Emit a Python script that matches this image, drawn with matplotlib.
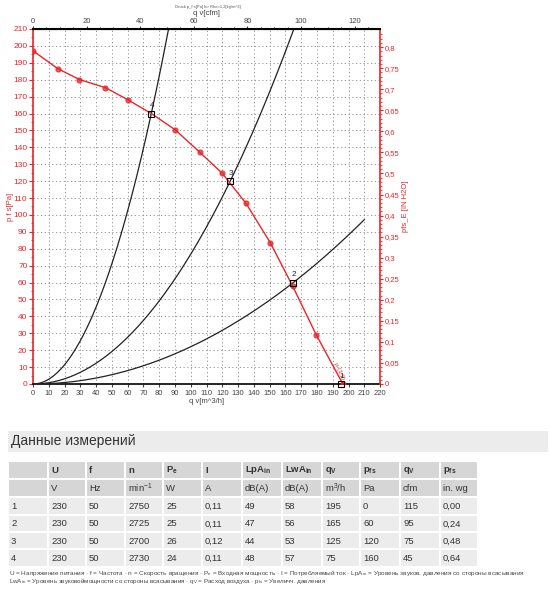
import numpy as np
import matplotlib.pyplot as plt
from matplotlib.patches import Rectangle

plt.rcParams['font.family'] = ['Liberation Sans', 'DejaVu Sans']

# fan curve: q [m3/h], p_fs [Pa]
curve_q = [0, 15.6, 29.4, 45.9, 60.0, 75, 90.1, 105.7, 119.9, 135.0, 150.4, 164.7, 179.5, 196.4]
curve_p = [197.1, 186.6, 180.1, 175.3, 168.2, 160, 150.4, 137.1, 124.7, 106.9, 83.6, 57.7, 29.2, 0]
dot_q = [0, 15.6, 29.4, 45.9, 60.0, 90.1, 105.7, 119.9, 135.0, 150.4, 164.7, 179.5, 196.4]
dot_p = [197.1, 186.6, 180.1, 175.3, 168.2, 150.4, 137.1, 124.7, 106.9, 83.6, 57.7, 29.2, 0]

# measurement table
row_ids = ['1', '2', '3', '4']
U = ['230', '230', '230', '230']
f = ['50', '50', '50', '50']
n = ['2750', '2725', '2700', '2730']
Pe = ['25', '25', '26', '24']
I = ['0,11', '0,11', '0,12', '0,11']
LpA = ['49', '47', '44', '48']
LwA = ['58', '56', '53', '57']
qv_m3h = [195, 165, 125, 75]
pfs_pa = [0, 60, 120, 160]
qv_cfm = ['115', '95', '75', '45']
pfs_inwg = ['0,00', '0,24', '0,48', '0,64']
head1 = ['', 'U', 'f', 'n', r'P$_\mathregular{e}$', 'I', r'LpA$_\mathregular{in}$',
         r'LwA$_\mathregular{in}$', r'q$_\mathregular{V}$', r'p$_\mathregular{fs}$',
         r'q$_\mathregular{V}$', r'p$_\mathregular{fs}$']
head2 = ['', 'V', 'Hz', r'min$^\mathregular{-1}$', 'W', 'A', 'dB(A)', 'dB(A)',
         r'm$^\mathregular{3}$/h', 'Pa', 'cfm', 'in. wg']

# system curves ends (q where they stop)
sys_end = [85.9, 165.4, 210]

red = '#e8262a'
PA_PER_INWG = 249.09
M3H_PER_CFM = 1.699

fig = plt.figure(figsize=(5.5, 6), dpi=100)
ax = fig.add_axes([0.06, 0.36, 0.631, 0.5917])

# system curves through operating points 4, 3, 2
for qo, po, qe in zip([qv_m3h[3], qv_m3h[2], qv_m3h[1]], [pfs_pa[3], pfs_pa[2], pfs_pa[1]], sys_end):
    k = po / qo ** 2
    qq = np.linspace(0, qe, 200)
    ax.plot(qq, k * qq ** 2, color='#222222', lw=0.9, zorder=3)

ax.plot(curve_q, curve_p, color=red, lw=1.0, zorder=4)
ax.plot(dot_q, dot_p, 'o', color=red, ms=3.5, alpha=0.75, zorder=5)

ax.plot(qv_m3h, pfs_pa, 's', mfc='none', mec='black', ms=4, mew=0.8, zorder=6, clip_on=False)
for i, (qx, py) in enumerate(zip(qv_m3h, pfs_pa)):
    ax.annotate(row_ids[i], (qx, py), xytext=(-1, 3), textcoords='offset points',
                fontsize=6, color='#222222', ha='left', va='bottom', zorder=7)
ax.text(190, 2, 'p (1,2)', color=red, fontsize=4.5, rotation=-65, ha='left', va='bottom')

ax.set_xlim(0, 220)
ax.set_ylim(0, 210)
ax.set_xticks(np.arange(0, 221, 10))
ax.set_yticks(np.arange(0, 211, 10))
ax.set_yticks(np.arange(0, 211, 5), minor=True)
ax.grid(True, color='#888888', linestyle=(0, (1.5, 3)), lw=0.6)
ax.tick_params(axis='x', labelsize=5.5, colors='#444444', length=2, pad=2)
ax.tick_params(axis='y', labelsize=6, colors=red, length=3, pad=1)
ax.tick_params(axis='y', which='minor', colors=red, length=1.5)
ax.spines['left'].set_color(red)
ax.spines['left'].set_linewidth(1.2)
ax.spines['bottom'].set_linewidth(1.2)
ax.spines['right'].set_visible(False)
ax.set_xlabel('q v[m^3/h]', fontsize=5.5, color='#444444', labelpad=1)
ax.set_ylabel('p f s[Pa]', fontsize=5.5, color=red)
ax.yaxis.set_label_coords(-0.055, 0.5)

ax_r = ax.twinx()
ax_r.set_ylim(0, 210 / PA_PER_INWG)
ax_r.set_yticks(np.arange(0, 0.81, 0.05))
ax_r.set_yticks(np.arange(0, 0.84, 0.01), minor=True)
ax_r.set_yticklabels([('%g' % v).replace('.', ',') for v in np.round(np.arange(0, 0.81, 0.05), 2)])
ax_r.tick_params(axis='y', labelsize=5.5, colors=red, length=2.5, pad=1)
ax_r.tick_params(axis='y', which='minor', colors=red, length=1.5)
ax_r.spines['right'].set_color(red)
ax_r.spines['right'].set_linewidth(1.2)
ax_r.spines['left'].set_visible(False)
ax_r.spines['top'].set_visible(False)
ax_r.spines['bottom'].set_visible(False)
ax_r.set_ylabel('pfs_E [IN H2O]', fontsize=5.5, color=red)
ax_r.yaxis.set_label_coords(1.063, 0.5)

ax_t = ax.twiny()
ax_t.set_xlim(0, 220 / M3H_PER_CFM)
ax_t.set_xticks(np.arange(0, 121, 20))
ax_t.set_xticks(np.arange(0, 130, 5), minor=True)
ax_t.tick_params(axis='x', labelsize=5.5, colors='#444444', length=2, pad=1)
ax_t.tick_params(axis='x', which='minor', length=1.5)
ax_t.spines['top'].set_linewidth(1.5)
for s in ['left', 'right', 'bottom']:
    ax_t.spines[s].set_visible(False)
ax_t.set_xlabel('q v[cfm]', fontsize=5.5, color='#444444', labelpad=2)
fig.text(0.378, 0.988, 'Druck p_f s[Pa] für Rho=1,2[kg/m^3]', fontsize=3, color='#555555', ha='center', va='center')

# table area in pixel coordinates
tab = fig.add_axes([0, 0, 1, 1])
tab.set_xlim(0, 550)
tab.set_ylim(600, 0)
tab.axis('off')
tab.patch.set_visible(False)

tab.add_patch(Rectangle((8, 431), 540, 21, color='#ececec', lw=0))
tab.text(11, 441.5, 'Данные измерений', fontsize=10, color='#333333', va='center', ha='left')

col_x = [8, 48, 86, 125, 163, 202, 242, 282, 322, 360, 400, 440, 478]
row_y = [461, 479, 497, 515, 532, 549, 567]
body = [[row_ids[i], U[i], f[i], n[i], Pe[i], I[i], LpA[i], LwA[i],
         str(qv_m3h[i]), str(pfs_pa[i]), qv_cfm[i], pfs_inwg[i]] for i in range(4)]
rows = [head1, head2] + body
for r, vals in enumerate(rows):
    y0, y1 = row_y[r], row_y[r + 1]
    for c, val in enumerate(vals):
        x0, x1 = col_x[c], col_x[c + 1]
        fc = '#d6d6d6' if r < 2 else '#ececec'
        tab.add_patch(Rectangle((x0 + 0.8, y0 + 0.8), x1 - x0 - 1.6, y1 - y0 - 1.6, color=fc, lw=0))
        tab.text(x0 + 3, (y0 + y1) / 2 + 0.5, val, fontsize=6.8, color='#333333', va='center', ha='left',
                 fontweight='bold' if r == 0 else 'normal')

foot1 = (r'U = Напряжение питания · f = Частота · n = Скорость вращения · P$_\mathregular{e}$ = Входная мощность · '
         r'I = Потребляемый ток · LpA$_\mathregular{in}$ = Уровень звуков. давления со стороны всасывания')
foot2 = (r'LwA$_\mathregular{in}$ = Уровень звуковоймощности со стороны всасывания · q$_\mathregular{V}$ = '
         r'Расход воздуха · p$_\mathregular{fs}$ = Увеличч. давления')
tab.text(9, 572.5, foot1, fontsize=4.55, color='#444444', va='center', ha='left')
tab.text(9, 581.5, foot2, fontsize=4.5, color='#444444', va='center', ha='left')

fig.savefig('out.png', dpi=100)
